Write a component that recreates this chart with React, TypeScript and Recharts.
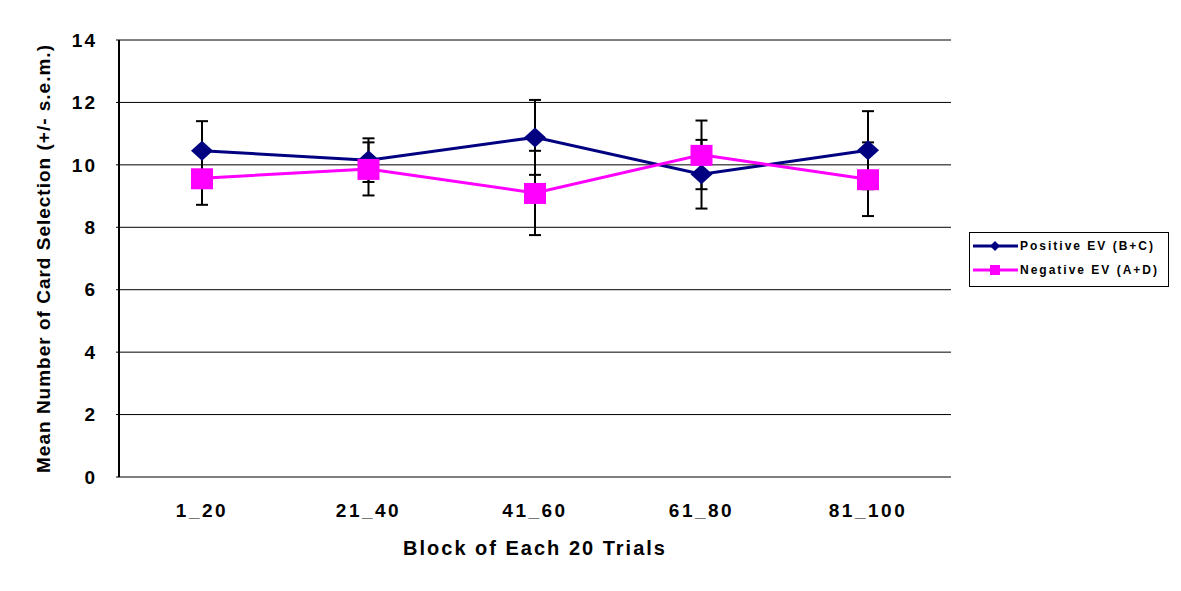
import React from 'react';
import { LineChart, Line, XAxis, YAxis, CartesianGrid, ErrorBar, Legend } from 'recharts';

const categories = ['1_20', '21_40', '41_60', '61_80', '81_100'];
const positiveMean = [10.45, 10.15, 10.88, 9.7, 10.47];
const positiveSem = [0.95, 0.7, 1.2, 1.1, 1.25];
const negativeMean = [9.57, 9.87, 9.1, 10.32, 9.54];
const negativeSem = [0.85, 0.85, 1.35, 1.1, 1.18];
const yTicks = [0, 2, 4, 6, 8, 10, 12, 14];

const data = categories.map((block, i) => ({
  block,
  pos: positiveMean[i],
  posErr: positiveSem[i],
  neg: negativeMean[i],
  negErr: negativeSem[i],
}));

const NAVY = '#000080';
const MAGENTA = '#FF00FF';
const FONT = '"Liberation Sans", Arial, sans-serif';

const Diamond = (props: any) => {
  const { cx, cy } = props;
  if (cx == null || cy == null) return null;
  return <polygon points={`${cx},${cy - 10} ${cx + 11},${cy} ${cx},${cy + 10} ${cx - 11},${cy}`} fill={NAVY} />;
};

const Square = (props: any) => {
  const { cx, cy } = props;
  if (cx == null || cy == null) return null;
  return <rect x={cx - 11} y={cy - 10} width={22} height={21} fill={MAGENTA} />;
};

const YLabel = (props: any) => {
  const vb = props.viewBox || {};
  const x = vb.x + 24;
  const y = vb.y + vb.height / 2;
  return (
    <text x={x} y={y} transform={`rotate(-90 ${x} ${y})`} textAnchor="middle" dominantBaseline="central"
      fontFamily={FONT} fontWeight="bold" fontSize={19} letterSpacing={1} fill="#000">
      Mean Number of Card Selection (+/- s.e.m.)
    </text>
  );
};

const legendItems = [
  { name: 'Positive EV (B+C)', color: NAVY, marker: 'diamond' },
  { name: 'Negative EV (A+D)', color: MAGENTA, marker: 'square' },
];

const LegendBox = () => (
  <svg width={200} height={55}>
    <rect x={0.5} y={0.5} width={199} height={54} fill="#fff" stroke="#000" />
    {legendItems.map((it, i) => {
      const y = 14 + i * 24;
      return (
        <g key={it.name}>
          <line x1={4} x2={49} y1={y} y2={y} stroke={it.color} strokeWidth={3} />
          {it.marker === 'diamond' ? (
            <polygon points={`26,${y - 5} 31,${y} 26,${y + 5} 21,${y}`} fill={it.color} />
          ) : (
            <rect x={21} y={y - 5} width={10} height={10} fill={it.color} />
          )}
          <text x={51} y={y} dominantBaseline="central" fontFamily={FONT} fontWeight="bold" fontSize={12}
            letterSpacing={2} fill="#000">
            {it.name}
          </text>
        </g>
      );
    })}
  </svg>
);

export default function App() {
  return (
    <div style={{ position: 'absolute', left: 0, top: 0, background: '#fff' }}>
      <LineChart width={1181} height={591} data={data} margin={{ top: 40, right: 230, left: 19, bottom: 28 }}>
        <CartesianGrid vertical={false} stroke="#000" strokeWidth={1} />
        <XAxis xAxisId="b" type="number" domain={[0, 5]} ticks={[0, 1, 2, 3, 4, 5]} mirror
          tick={{ fill: 'none', fontSize: 1 }} tickSize={6} height={0}
          axisLine={{ stroke: '#000', strokeWidth: 2 }} tickLine={{ stroke: '#000', strokeWidth: 1 }} />
        <XAxis dataKey="block" padding={{ left: 83, right: 83 }} height={86} axisLine={false} tickLine={false}
          tickSize={0} tickMargin={27}
          tick={{ fontFamily: FONT, fontWeight: 'bold', fontSize: 19, letterSpacing: 2.5, fill: '#000' }}
          label={{ value: 'Block of Each 20 Trials', position: 'insideBottom', offset: 8,
            style: { fontFamily: FONT, fontWeight: 'bold', fontSize: 20, letterSpacing: 2, fill: '#000' } }} />
        <YAxis domain={[0, 14]} ticks={yTicks} width={100} interval={0} axisLine={{ stroke: '#000', strokeWidth: 2 }}
          tickLine={{ stroke: '#000' }} tickSize={3} tickMargin={19}
          tick={{ fontFamily: FONT, fontWeight: 'bold', fontSize: 19, letterSpacing: 2, fill: '#000' }}
          label={<YLabel />} />
        <YAxis yAxisId="r" orientation="right" width={0} tick={false} tickLine={false}
          axisLine={{ stroke: '#808080', strokeWidth: 2 }} />
        <Legend layout="vertical" align="center" verticalAlign="middle" content={<LegendBox />}
          wrapperStyle={{ left: 969, top: 232, width: 200, height: 55 }} />
        <Line dataKey="pos" stroke={NAVY} strokeWidth={3} dot={<Diamond />} activeDot={false} isAnimationActive={false}>
          <ErrorBar dataKey="posErr" width={6} stroke="#000" strokeWidth={2} direction="y" />
        </Line>
        <Line dataKey="neg" stroke={MAGENTA} strokeWidth={3} dot={<Square />} activeDot={false} isAnimationActive={false}>
          <ErrorBar dataKey="negErr" width={6} stroke="#000" strokeWidth={2} direction="y" />
        </Line>
      </LineChart>
    </div>
  );
}
